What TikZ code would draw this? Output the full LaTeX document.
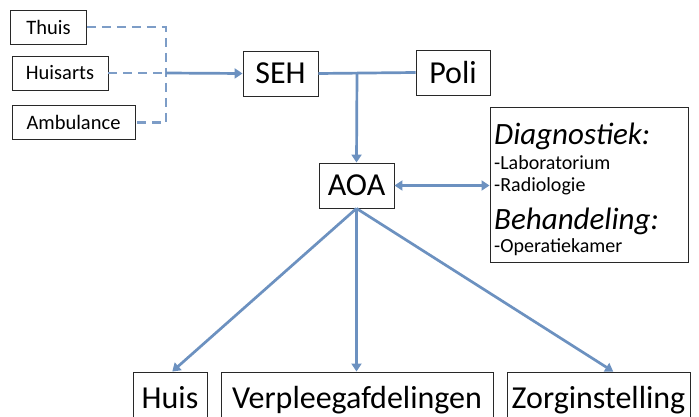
\documentclass[tikz,border=0pt]{standalone}
\usepackage{fontspec}
\setmainfont{Carlito}
\usetikzlibrary{arrows.meta,calc}
\definecolor{arr}{RGB}{108,145,192}
\definecolor{dsh}{RGB}{125,157,199}
\definecolor{frame}{RGB}{40,40,40}
\tikzset{
  box/.style={draw=frame,line width=0.9pt,inner sep=0pt,align=center},
  smallbox/.style={box,minimum height=34pt,font=\fontsize{20.5}{22}\selectfont},
  bigbox/.style={box,minimum height=45pt,font=\fontsize{32}{34}\selectfont},
  botbox/.style={box,minimum height=50pt,text depth=0pt,font=\fontsize{32}{34}\selectfont},
  conn/.style={draw=arr,line width=2.7pt},
  dconn/.style={draw=dsh,line width=2.5pt,dash pattern=on 9pt off 6pt},
  tip/.style={-{Triangle[length=8pt,width=10pt]}},
  item/.style={anchor=west,inner sep=0pt,font=\fontsize{20}{22}\selectfont},
  head/.style={anchor=west,inner sep=0pt,font=\fontsize{31}{33}\selectfont\itshape},
}
\begin{document}
\begin{tikzpicture}[x=1pt,y=-1pt]
\useasboundingbox (0,0) rectangle (699,417);
\clip (0,0) rectangle (699,417);
\fill[white] (0,0) rectangle (699,417);
% sources
\node[smallbox,minimum width=76pt] (thuis) at (48.5,27) {Thuis};
\node[smallbox,minimum width=96pt] (huisarts) at (60,73) {Huisarts};
\node[smallbox,minimum width=123pt] (amb) at (73.5,122.5) {Ambulance};
% main
\node[bigbox,minimum width=75pt] (seh) at (280.5,73.5) {SEH};
\node[bigbox,minimum width=74pt] (poli) at (453,72.5) {Poli};
\node[bigbox,minimum width=75pt] (aoa) at (356.5,185.5) {AOA};
\node[box,minimum width=198pt,minimum height=155pt] (diag) at (589,184.5) {};
\node[head] (dh) at (494,136) {Diagnostiek:};
\node[item] (lab) at (494,163) {-Laboratorium};
\node[item] (rad) at (494,186) {-Radiologie};
\node[head] (bh) at (494,221) {Behandeling:};
\node[item] (ok) at (494,247) {-Operatiekamer};
% destinations
\node[botbox,minimum width=74pt] (huis) at (170,397) {Huis};
\node[botbox,minimum width=272pt] (verp) at (357,397) {Verpleegafdelingen};
\node[botbox,minimum width=183pt] (zorg) at (598.5,397) {Zorginstelling};
% junctions
\coordinate (jv) at (166,73);
\coordinate (jt) at (166,27);
\coordinate (jb) at (166,122.5);
\coordinate (js) at (357,73);
% dashed inputs
\draw[dconn] (thuis.east) -- (jt) -- (jb) -- (amb.east);
\draw[dconn] (huisarts.east) -- (jv);
\draw[conn,tip] (jv) -- (seh.west);
% SEH - Poli
\draw[conn] (seh.east) -- (poli.west);
\draw[conn,tip] (js) -- (aoa.north);
% AOA <-> diag
\draw[conn,{Triangle[length=8pt,width=10pt]}-{Triangle[length=8pt,width=10pt]}] (aoa.east) -- (aoa.east -| diag.west);
% outputs
\draw[conn,tip] (aoa.south) -- ($(huis.north west)!0.53!(huis.north east)$);
\draw[conn,tip] (aoa.south) -- (aoa.south |- verp.north);
\draw[conn,tip] (aoa.south) -- ($(zorg.north west)!0.58!(zorg.north east)$);
\end{tikzpicture}
\end{document}
